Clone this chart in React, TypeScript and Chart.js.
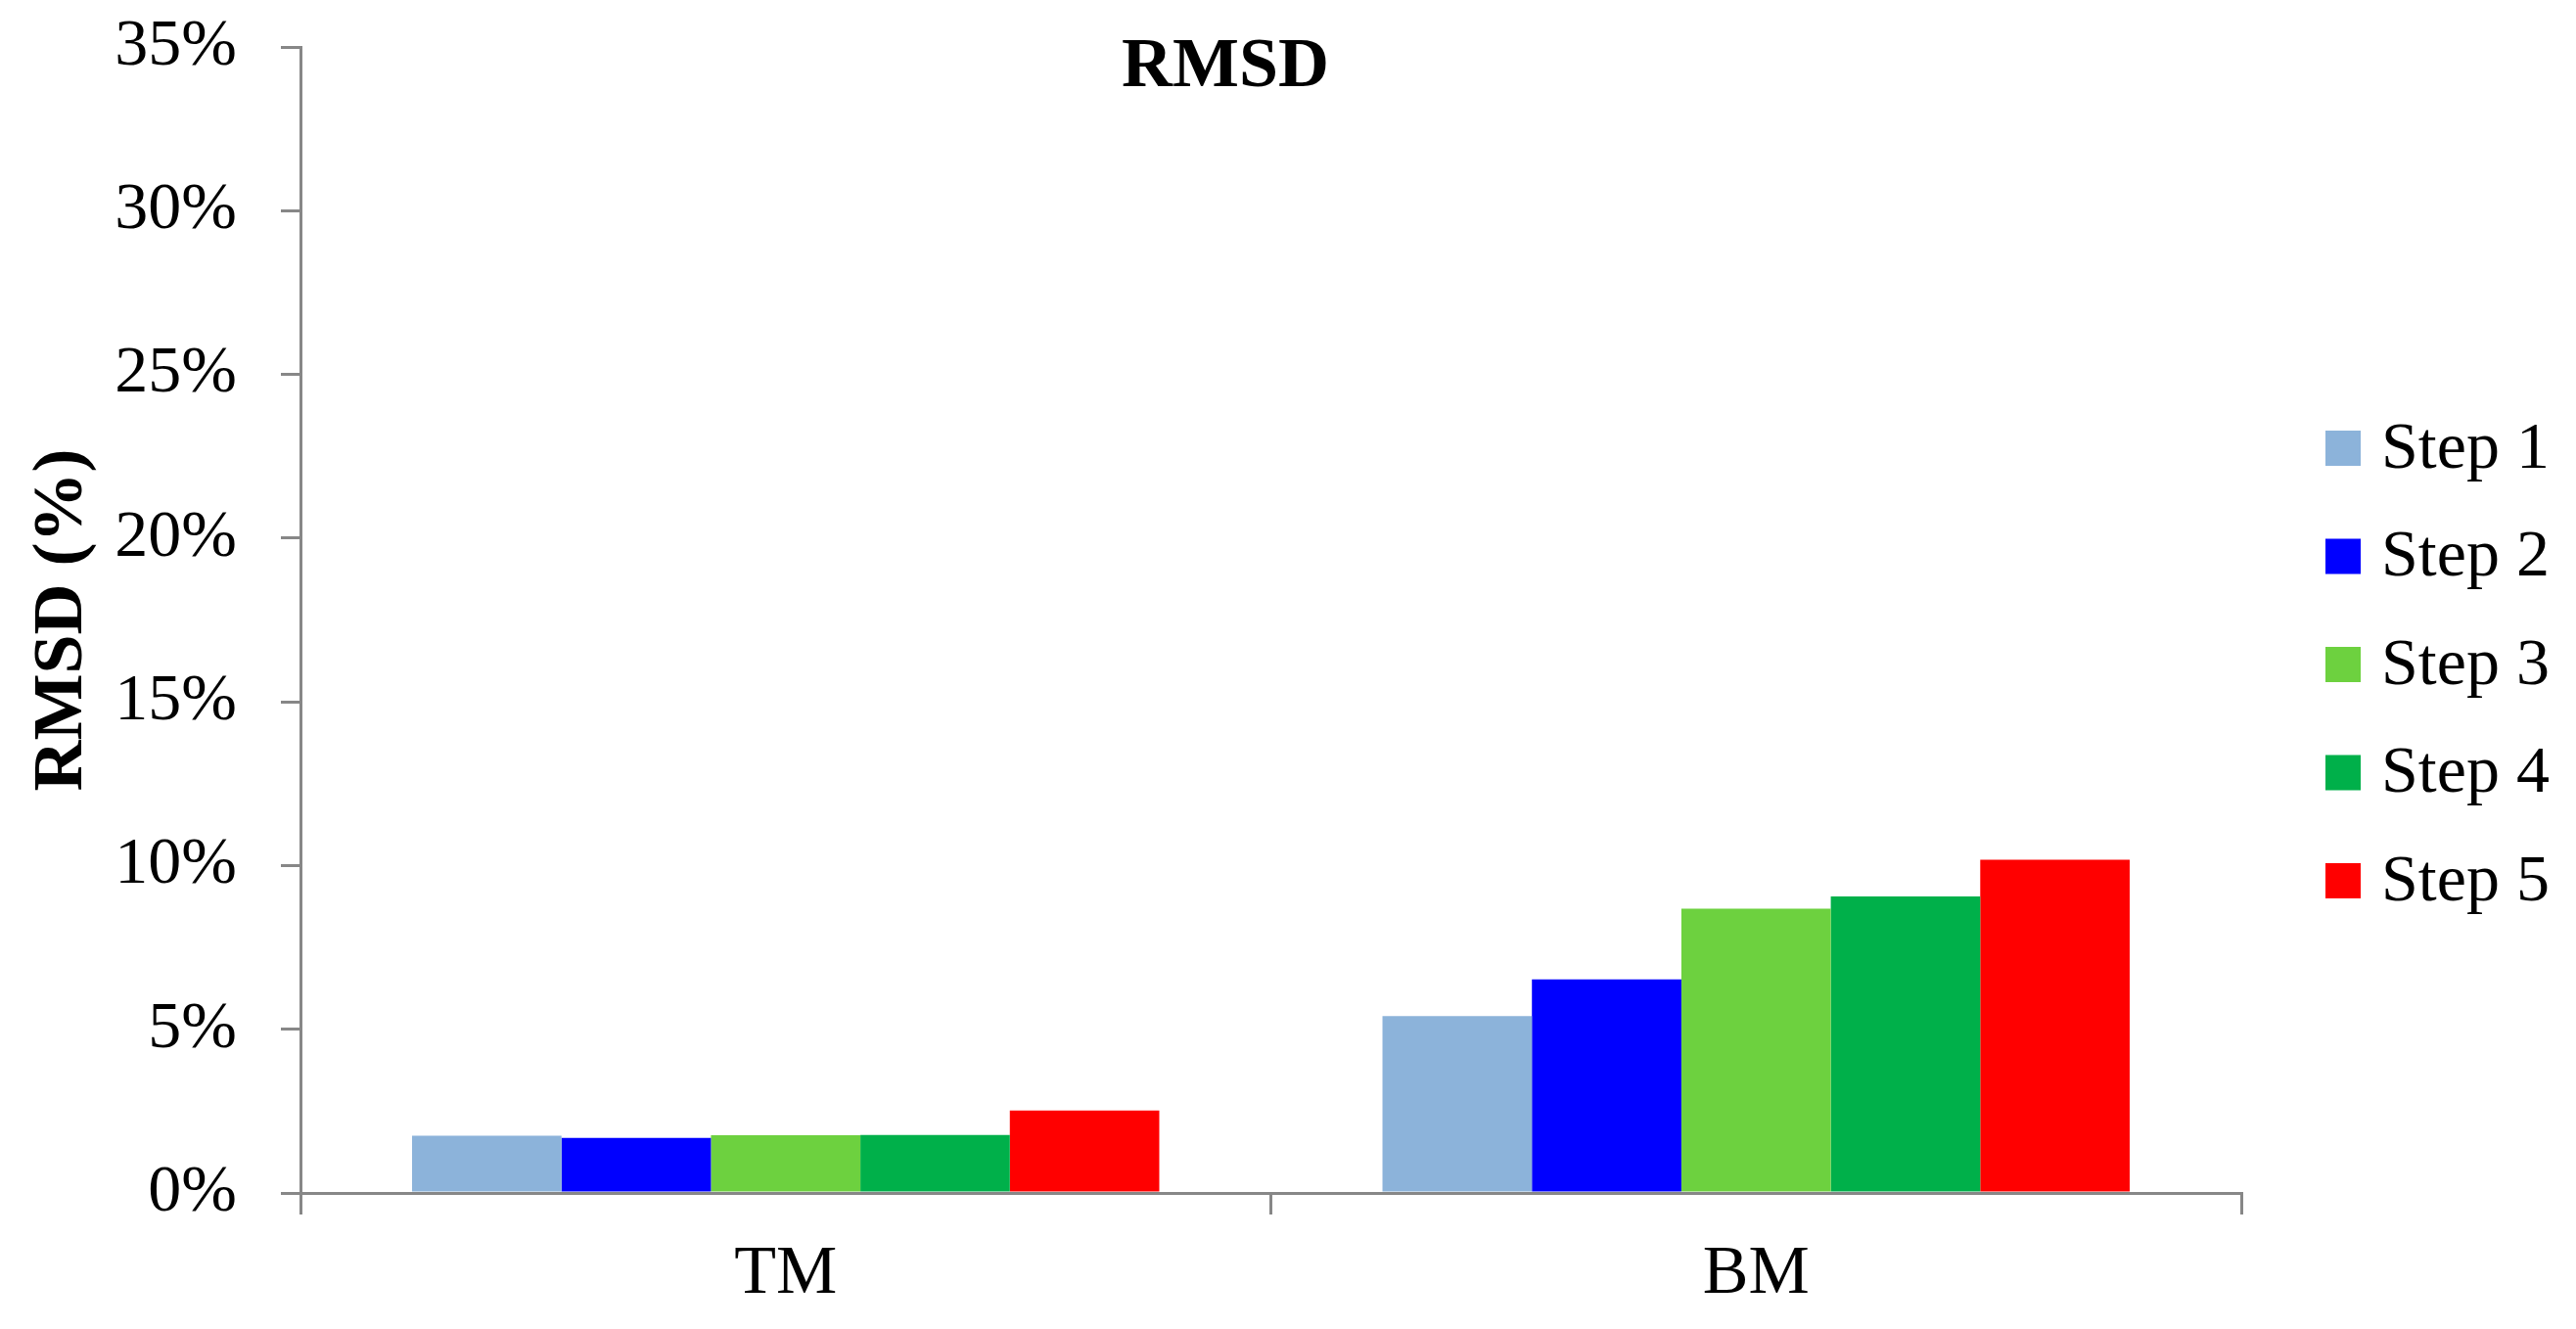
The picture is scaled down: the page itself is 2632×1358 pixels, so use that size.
import React, { useEffect, useRef } from 'react';
import { Chart, registerables } from 'chart.js';

Chart.register(...registerables);

// ---- data ----
const categories = ['TM', 'BM'];
const seriesLabels = ['Step 1', 'Step 2', 'Step 3', 'Step 4', 'Step 5'];
const step1 = [1.75, 5.4];
const step2 = [1.68, 6.52];
const step3 = [1.76, 8.68];
const step4 = [1.77, 9.06];
const step5 = [2.52, 10.18];
const seriesColors = ['#8CB3DA', '#0000FF', '#6DD13F', '#00B04A', '#FF0000'];
const yMin = 0;
const yMax = 35;
const yStep = 5;
const chartTitle = 'RMSD';
const yAxisTitle = 'RMSD (%)';

// ---- style ----
const FONT = "'Liberation Serif', 'Times New Roman', serif";
const W = 2632;
const H = 1358;
const AXIS = '#878787';

const overlayTitle = {
  id: 'overlayTitle',
  afterDraw(chart: any) {
    const { ctx, chartArea } = chart;
    ctx.save();
    ctx.font = `bold 72px ${FONT}`;
    ctx.fillStyle = '#000';
    ctx.textAlign = 'center';
    ctx.textBaseline = 'alphabetic';
    ctx.fillText(chartTitle, chartArea.left + chartArea.width * 0.4766, chartArea.top + 40);
    ctx.restore();
  },
};

const sideLegend = {
  id: 'sideLegend',
  afterDraw(chart: any) {
    const { ctx, chartArea } = chart;
    const ds = chart.data.datasets;
    const rowH = 110.5;
    const box = 36;
    const x0 = chartArea.right + 86;
    const cy = (chartArea.top + chartArea.bottom) / 2 + 45.5;
    const y0 = cy - ((ds.length - 1) * rowH) / 2;
    ctx.save();
    ctx.font = `68px ${FONT}`;
    ctx.textAlign = 'left';
    ctx.textBaseline = 'middle';
    ds.forEach((d: any, i: number) => {
      const y = y0 + i * rowH;
      ctx.fillStyle = d.backgroundColor;
      ctx.fillRect(x0, y - box / 2, box, box);
      ctx.fillStyle = '#000';
      ctx.fillText(d.label, x0 + box + 21, y + 2);
    });
    ctx.restore();
  },
};

export default function App() {
  const ref = useRef<HTMLCanvasElement | null>(null);

  useEffect(() => {
    document.body.style.margin = '0';
    const canvas = ref.current;
    if (!canvas) return;
    const series = [step1, step2, step3, step4, step5];
    const chart = new Chart(canvas, {
      type: 'bar',
      data: {
        labels: categories,
        datasets: series.map((vals, i) => ({
          label: seriesLabels[i],
          data: vals,
          backgroundColor: seriesColors[i],
          borderWidth: 0,
          categoryPercentage: 0.77,
          barPercentage: 1.0,
        })),
      },
      options: {
        responsive: false,
        animation: false,
        layout: { padding: { top: 48, right: W - 2290, bottom: 0, left: 0 } },
        plugins: {
          legend: { display: false },
          title: { display: false },
          tooltip: { enabled: false },
        },
        scales: {
          x: {
            grid: {
              display: true,
              offset: true,
              drawOnChartArea: false,
              drawTicks: true,
              tickLength: 22,
              color: AXIS,
              lineWidth: 3,
            },
            border: { display: true, color: AXIS, width: 3 },
            ticks: { font: { family: FONT, size: 70 }, color: '#000', padding: 20 },
            afterFit: (s: any) => {
              s.height = H - 1219;
              s.paddingLeft = 0;
              s.paddingRight = 0;
            },
          },
          y: {
            min: yMin,
            max: yMax,
            ticks: {
              stepSize: yStep,
              callback: (v: any) => `${v}%`,
              font: { family: FONT, size: 68 },
              color: '#000',
              padding: 45,
            },
            grid: {
              drawOnChartArea: false,
              drawTicks: true,
              tickLength: 20,
              color: AXIS,
              lineWidth: 3,
            },
            border: { display: true, color: AXIS, width: 3 },
            title: {
              display: true,
              text: yAxisTitle,
              font: { family: FONT, size: 72, weight: 'bold' },
              color: '#000',
              padding: { top: 21, bottom: 0 },
            },
            afterFit: (s: any) => {
              s.width = 307;
              s.paddingTop = 0;
              s.paddingBottom = 0;
            },
          },
        },
      },
      plugins: [overlayTitle, sideLegend],
    });
    return () => chart.destroy();
  }, []);

  return (
    <div style={{ width: W, height: H, overflow: 'hidden', background: '#fff' }}>
      <canvas ref={ref} width={W} height={H} style={{ display: 'block' }} />
    </div>
  );
}
